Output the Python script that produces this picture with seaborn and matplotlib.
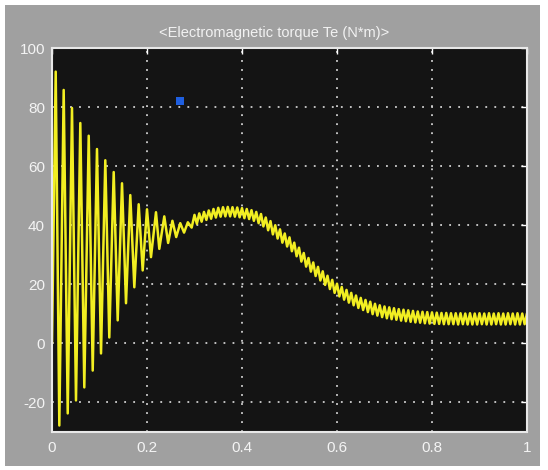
import numpy as np
import pandas as pd
import matplotlib
matplotlib.use('Agg')
import matplotlib.pyplot as plt
from matplotlib.patches import Rectangle
import seaborn as sns

t_start = [0.0, 0.0078, 0.0154, 0.0246, 0.0331, 0.0421, 0.0505, 0.0596, 0.068,
           0.0773, 0.0857, 0.0947, 0.1032, 0.1122, 0.1206, 0.1299, 0.1383,
           0.1474, 0.1558, 0.1648, 0.1733, 0.1825, 0.1909, 0.2000, 0.2084,
           0.2189, 0.2259, 0.2364, 0.2445, 0.2535, 0.2615, 0.2700, 0.2780,
           0.2860, 0.2940]
te_start = [0.0, 92.0, -27.8, 85.8, -23.7, 79.7, -19.3, 74.6, -14.9, 70.3,
            -9.2, 65.8, -3.4, 62.0, 2.0, 58.0, 7.8, 54.2, 13.6, 50.2, 19.0,
            47.1, 24.7, 45.4, 29.2, 44.4, 32.0, 43.0, 34.0, 41.5, 36.0, 40.7,
            37.5, 41.0, 39.2]

# Tramo con rizado (muestras cada 5 ms desde 0.30 s hasta 1.0 s)
t_ripple = np.round(np.linspace(0.30, 1.0, 141), 3)
te_ripple = [
    43.5, 40.5, 44.0, 41.2, 44.5, 41.8, 45.0, 42.2, 45.5, 42.6,
    45.9, 42.9, 46.1, 43.0, 46.2, 43.0, 46.1, 42.9, 46.0, 42.7,
    45.8, 42.4, 45.5, 42.1, 45.1, 41.5, 44.5, 40.7, 43.8, 39.6,
    42.6, 38.3, 41.4, 36.9, 40.0, 35.5, 38.6, 34.1, 37.2, 32.8,
    35.9, 31.2, 34.1, 29.5, 32.4, 27.7, 30.6, 26.0, 28.9, 24.3,
    27.4, 22.8, 25.9, 21.3, 24.4, 19.8, 22.9, 18.4, 21.5, 17.1,
    20.2, 15.9, 19.1, 14.8, 18.1, 13.8, 17.1, 12.9, 16.2, 12.0,
    15.4, 11.3, 14.7, 10.6, 14.1, 9.9, 13.4, 9.4, 12.9, 8.9,
    12.5, 8.5, 12.2, 8.2, 11.9, 8.0, 11.6, 7.7, 11.4, 7.5,
    11.2, 7.3, 11.0, 7.1, 10.8, 7.0, 10.7, 6.8, 10.6, 6.7,
    10.5,
    6.6, 10.4, 6.6, 10.3, 6.5, 10.3, 6.5, 10.2, 6.5, 10.2,
    6.4, 10.2, 6.5, 10.1, 6.4, 10.2, 6.4, 10.1, 6.4, 10.2,
    6.5, 10.1, 6.4, 10.2, 6.4, 10.1, 6.5, 10.2, 6.4, 10.1,
    6.4, 10.2, 6.5, 10.1, 6.4, 10.2, 6.4, 10.1, 6.5, 10.2,
]

# Marca azul del cursor
cursor_t = [0.269]
cursor_te = [82.0]

x_ticks = [0, 0.2, 0.4, 0.6, 0.8, 1]
x_labels = ['0', '0.2', '0.4', '0.6', '0.8', '1']
y_ticks = [-20, 0, 20, 40, 60, 80, 100]
y_labels = ['-20', '0', '20', '40', '60', '80', '100']
title = '<Electromagnetic torque Te (N*m)>'

df = pd.DataFrame({'t': np.concatenate([t_start, t_ripple]),
                   'Te': np.concatenate([te_start, te_ripple])})
df_cursor = pd.DataFrame({'t': cursor_t, 'Te': cursor_te})

sns.set_style('dark')
plt.rcParams['font.family'] = ['Liberation Sans', 'DejaVu Sans']

fig = plt.figure(figsize=(5.48, 4.70), dpi=100, facecolor='white')
fig.patches.append(Rectangle((5 / 548, 4 / 470), 535 / 548, 461 / 470,
                             transform=fig.transFigure, facecolor='#a0a0a0',
                             edgecolor='none', zorder=-10))
ax = fig.add_axes([52 / 548, 38 / 470, 475 / 548, 384 / 470])
ax.set_facecolor('#141414')

sns.lineplot(data=df, x='t', y='Te', ax=ax, color='#f2ee22', linewidth=1.8,
             estimator=None, sort=False)
sns.scatterplot(data=df_cursor, x='t', y='Te', ax=ax, marker='s', s=30,
                color='#1f5fe0', edgecolor='none', zorder=5)

ax.set_xlim(0, 1)
ax.set_ylim(-30, 100)
ax.set_xticks(x_ticks)
ax.set_xticklabels(x_labels)
ax.set_yticks(y_ticks)
ax.set_yticklabels(y_labels)
ax.set_xlabel('')
ax.set_ylabel('')

ax.grid(True, color='#d0d0d0', linestyle=(0, (1, 4)), linewidth=1.3)
ax.tick_params(axis='both', direction='in', length=4, width=1, color='white',
               labelcolor='#f4f4f4', labelsize=11, top=True, right=True)
ax.tick_params(axis='y', pad=5)
ax.tick_params(axis='x', pad=6.5)
for s in ax.spines.values():
    s.set_visible(True)
    s.set_color('#e8e8e8')
    s.set_linewidth(1.5)

fig.text(0.5, 1 - 33 / 470, title, ha='center', va='center',
         color='#f2f2f2', fontsize=10.5)

fig.savefig('out.png', dpi=100, facecolor=fig.get_facecolor())
